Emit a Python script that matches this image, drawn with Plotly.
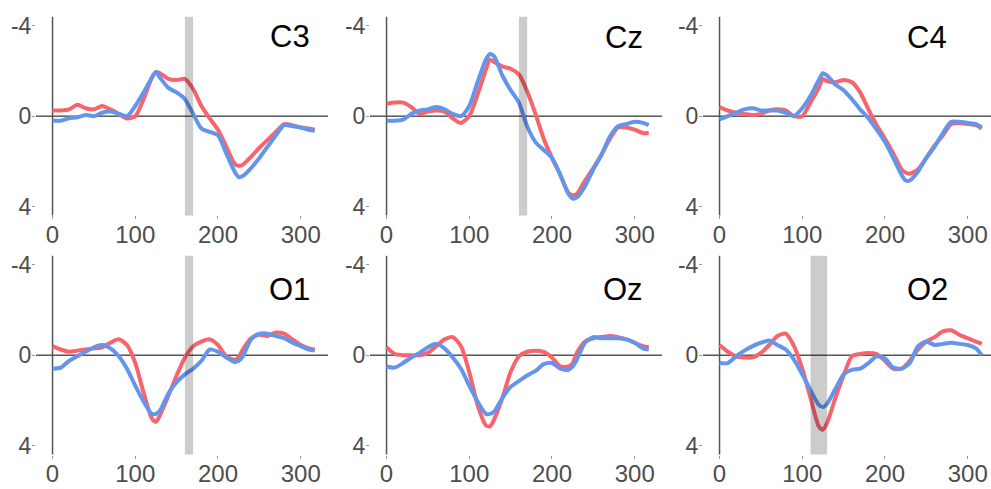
import plotly.graph_objects as go

# time points (ms)
t = [0, 10, 20, 30, 40, 50, 60, 70, 80, 90, 100, 110, 120, 125,
     130, 140, 150, 160, 170, 180, 190, 200, 210, 220, 225,
     230, 240, 250, 260, 270, 280, 290, 300, 310, 317]

channels = ["C3", "Cz", "C4", "O1", "Oz", "O2"]

c3_red = [-0.25, -0.25, -0.3, -0.5, -0.35, -0.3, -0.45, -0.3, -0.1, 0.1, 0.0, -0.75, -1.7, -1.95,
          -1.9, -1.65, -1.6, -1.65, -1.2, -0.45, 0.1, 0.6, 1.35, 2.1, 2.2,
          2.15, 1.8, 1.4, 1.05, 0.7, 0.35, 0.4, 0.5, 0.55, 0.6]
c3_blue = [0.2, 0.2, 0.1, 0.05, -0.05, 0.0, -0.15, -0.2, -0.1, 0.0, -0.45, -1.05, -1.7, -1.95,
           -1.7, -1.25, -1.05, -0.75, -0.1, 0.55, 0.7, 0.85, 1.65, 2.45, 2.7,
           2.65, 2.3, 1.85, 1.35, 0.85, 0.4, 0.45, 0.5, 0.6, 0.65]
cz_red = [-0.55, -0.6, -0.6, -0.4, -0.1, -0.2, -0.25, -0.2, 0.1, 0.3, 0.0, -0.95, -2.05, -2.5,
          -2.4, -2.2, -2.1, -1.85, -1.1, -0.1, 1.0, 1.85, 2.6, 3.4, 3.5,
          3.45, 2.85, 2.3, 1.7, 1.0, 0.5, 0.5, 0.6, 0.75, 0.75]
cz_blue = [0.2, 0.2, 0.15, -0.1, -0.25, -0.3, -0.4, -0.3, -0.1, 0.0, -0.45, -1.5, -2.5, -2.75,
           -2.65, -1.8, -1.15, -0.6, 0.45, 1.15, 1.5, 1.85, 2.6, 3.45, 3.65,
           3.6, 3.1, 2.35, 1.7, 0.9, 0.45, 0.35, 0.25, 0.3, 0.4]
c4_red = [-0.4, -0.25, -0.15, -0.1, -0.05, -0.1, -0.25, -0.3, -0.25, 0.0, 0.0, -0.6, -1.25, -1.65,
          -1.55, -1.5, -1.6, -1.5, -1.05, -0.3, 0.4, 1.0, 1.65, 2.35, 2.5,
          2.55, 2.35, 1.85, 1.3, 0.85, 0.35, 0.3, 0.35, 0.4, 0.55]
c4_blue = [0.15, 0.0, -0.15, -0.3, -0.35, -0.25, -0.25, -0.25, -0.15, 0.0, -0.35, -0.9, -1.6, -1.9,
           -1.8, -1.4, -1.15, -0.75, -0.3, 0.1, 0.6, 1.15, 1.85, 2.6, 2.85,
           2.85, 2.45, 1.85, 1.35, 0.75, 0.25, 0.25, 0.3, 0.35, 0.5]
o1_red = [-0.4, -0.25, -0.15, -0.2, -0.25, -0.3, -0.35, -0.55, -0.7, -0.45, 0.35, 1.65, 2.8, 2.95,
          2.65, 1.8, 0.9, 0.1, -0.4, -0.6, -0.7, -0.45, 0.05, 0.2, 0.1,
          -0.25, -0.75, -0.9, -0.85, -1.0, -0.95, -0.7, -0.45, -0.3, -0.25]
o1_blue = [0.6, 0.55, 0.25, 0.05, -0.15, -0.35, -0.45, -0.3, 0.05, 0.6, 1.35, 2.05, 2.6, 2.6,
           2.45, 1.7, 1.2, 0.85, 0.6, 0.25, -0.25, -0.15, 0.1, 0.3, 0.25,
           0.05, -0.7, -0.95, -0.95, -0.85, -0.75, -0.55, -0.4, -0.25, -0.2]
oz_red = [-0.35, -0.05, 0.0, 0.0, 0.0, -0.1, -0.4, -0.7, -0.8, -0.4, 0.75, 2.2, 3.1, 3.15,
          2.85, 1.9, 0.75, 0.05, -0.15, -0.2, -0.15, 0.1, 0.5, 0.5, 0.35,
          -0.1, -0.6, -0.75, -0.8, -0.85, -0.8, -0.7, -0.55, -0.4, -0.35]
oz_blue = [0.5, 0.55, 0.35, 0.1, -0.1, -0.35, -0.5, -0.3, 0.1, 0.6, 1.35, 2.05, 2.6, 2.6,
           2.5, 1.9, 1.4, 1.15, 0.9, 0.7, 0.4, 0.35, 0.6, 0.65, 0.5,
           0.2, -0.55, -0.8, -0.75, -0.75, -0.75, -0.7, -0.55, -0.3, -0.25]
o2_red = [-0.45, -0.15, 0.05, 0.1, 0.1, -0.1, -0.45, -0.85, -0.95, -0.4, 0.6, 1.9, 3.15, 3.3,
          3.0, 1.9, 0.9, 0.05, -0.05, -0.1, -0.05, 0.25, 0.6, 0.6, 0.45,
          0.25, -0.25, -0.6, -0.8, -1.05, -1.1, -0.9, -0.75, -0.6, -0.5]
o2_blue = [0.35, 0.35, 0.05, -0.2, -0.4, -0.55, -0.65, -0.45, -0.25, 0.2, 0.85, 1.55, 2.2, 2.3,
           2.15, 1.5, 0.85, 0.65, 0.6, 0.35, 0.05, 0.15, 0.55, 0.6, 0.5,
           0.35, -0.4, -0.6, -0.45, -0.5, -0.55, -0.5, -0.45, -0.3, 0.0]

red_series = [c3_red, cz_red, c4_red, o1_red, oz_red, o2_red]
blue_series = [c3_blue, cz_blue, c4_blue, o1_blue, oz_blue, o2_blue]

# significant windows (ms) per channel
bands = [(160, 170), (160, 170), None, (160, 170), None, (110, 130)]

x_ticks = [0, 100, 200, 300]
y_ticks = [-4, 0, 4]
y_tick_labels = ["-4", "0", "4"]

RED = "#F8646C"
BLUE = "#6495ED"
FONT = "Arial, Liberation Sans, sans-serif"
W, H = 991, 489

# panel layout in pixels
col_px = [(36, 328), (370, 662), (703, 991)]
row_px = [(13, 215), (256, 458)]
x_scale = 292 / 353.0  # px per ms

fig = go.Figure()
layout = dict(width=W, height=H, margin=dict(l=0, r=0, t=0, b=0),
              paper_bgcolor="white", plot_bgcolor="white", showlegend=False)

title_pos = [(290, 33), (624, 34), (927, 34), (289, 290), (623, 290), (927, 290)]
annotations = []
shapes = []

for i, ch in enumerate(channels):
    r, c = divmod(i, 3)
    k = i + 1
    xa = "x" if k == 1 else f"x{k}"
    ya = "y" if k == 1 else f"y{k}"
    xkey = "xaxis" if k == 1 else f"xaxis{k}"
    ykey = "yaxis" if k == 1 else f"yaxis{k}"
    x0p, x1p = col_px[c]
    y0p, y1p = row_px[r]
    xmax = -20 + (x1p - x0p) / x_scale
    layout[xkey] = dict(domain=[x0p / W, x1p / W], range=[-20, xmax], anchor=ya,
                        showgrid=False, zeroline=False, showline=False,
                        tickvals=x_ticks, ticks="outside", ticklen=3, tickwidth=1,
                        tickcolor="#999999", ticklabelstandoff=-5,
                        tickfont=dict(family=FONT, size=24, color="#4D4D4D"))
    layout[ykey] = dict(domain=[1 - y1p / H, 1 - y0p / H], range=[4.4, -4.4], anchor=xa,
                        showgrid=False, zeroline=False, showline=False,
                        tickvals=y_ticks, ticktext=y_tick_labels, ticks="outside",
                        ticklen=3, tickwidth=1, tickcolor="#999999", ticklabelstandoff=-4,
                        tickfont=dict(family=FONT, size=23, color="#4D4D4D"))
    # zero line
    shapes.append(dict(type="line", xref=f"{xa} domain", yref=ya, x0=0, x1=1, y0=0, y1=0,
                       line=dict(color="black", width=1), layer="below"))
    # vertical line at t=0
    shapes.append(dict(type="line", xref=xa, yref=f"{ya} domain", x0=0, x1=0, y0=0, y1=1,
                       line=dict(color="#555555", width=1.5), layer="below"))
    fig.add_trace(go.Scatter(x=t, y=red_series[i], mode="lines", xaxis=xa, yaxis=ya,
                             line=dict(color=RED, width=4, shape="spline", smoothing=0.7)))
    fig.add_trace(go.Scatter(x=t, y=blue_series[i], mode="lines", xaxis=xa, yaxis=ya,
                             line=dict(color=BLUE, width=4, shape="spline", smoothing=0.7)))
    if bands[i] is not None:
        b0, b1 = bands[i]
        shapes.append(dict(type="rect", xref=xa, yref=f"{ya} domain", x0=b0, x1=b1, y0=0, y1=1,
                           fillcolor="rgba(0,0,0,0.2)", line=dict(width=0), layer="above"))
    tx, ty = title_pos[i]
    annotations.append(dict(text=ch, xref="paper", yref="paper", x=tx / W, y=1 - ty / H,
                            xanchor="center", yanchor="middle", showarrow=False,
                            font=dict(family=FONT, size=31, color="black")))

layout["shapes"] = shapes
layout["annotations"] = annotations
fig.update_layout(**layout)
fig.write_html("out.html", config={"displayModeBar": False},
               post_script="document.body.style.margin='0';document.body.style.overflow='hidden';")
